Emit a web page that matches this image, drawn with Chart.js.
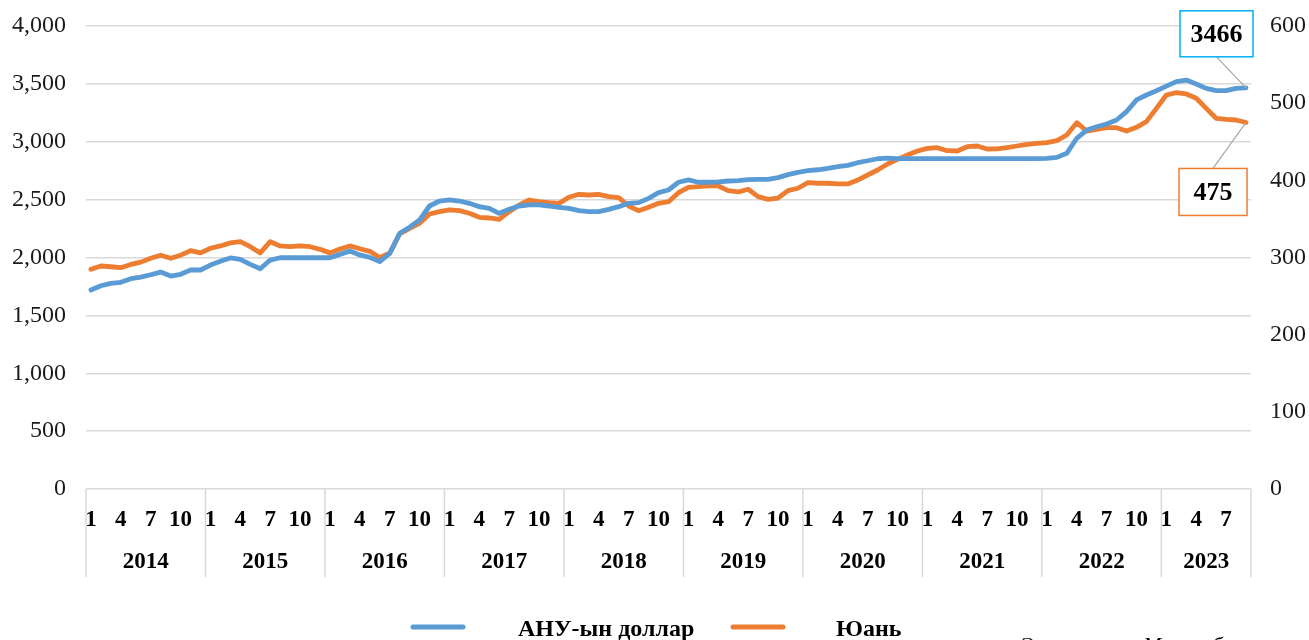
<!DOCTYPE html>
<html>
<head>
<meta charset="utf-8">
<script src="https://cdn.jsdelivr.net/npm/chart.js@4.4.0/dist/chart.umd.min.js"></script>
<style>
  body { margin: 0; background: #fff; }
  canvas { display: block; }
</style>
</head>
<body>
<canvas id="myChart" width="1309" height="640"></canvas>
<script>
  // Years on the axis and how many months each has
  const years = [2014, 2015, 2016, 2017, 2018, 2019, 2020, 2021, 2022, 2023]
  const yearMonths = [12, 12, 12, 12, 12, 12, 12, 12, 12, 9]
  const shownMonths = [1, 4, 7, 10]

  const usdLabel = 'АНУ-ын доллар'
  const cnyLabel = 'Юань'

  // MNT per USD (left axis)
  const usd = [
    1719, 1756, 1777, 1786, 1817, 1831, 1851, 1874, 1840, 1855, 1892, 1892,
    1935, 1967, 1996, 1984, 1941, 1903, 1978, 1998, 1998, 1998, 1998, 1998,
    1998, 2027, 2056, 2022, 2001, 1964, 2036, 2209, 2261, 2324, 2445, 2488,
    2497, 2488, 2468, 2439, 2425, 2382, 2416, 2445, 2454, 2454, 2445, 2434,
    2425, 2405, 2396, 2396, 2416, 2439, 2468, 2474, 2511, 2560, 2583, 2650,
    2670, 2650, 2650, 2653, 2661, 2664, 2672, 2675, 2675, 2690, 2716, 2736,
    2750, 2758, 2770, 2785, 2796, 2819, 2836, 2853, 2859, 2855, 2855, 2855,
    2855, 2855, 2855, 2855, 2855, 2855, 2855, 2855, 2855, 2855, 2855, 2855,
    2857, 2865, 2900, 3030, 3101, 3130, 3153, 3188, 3260, 3361, 3404, 3441,
    3481, 3519, 3533, 3499, 3461, 3441, 3441, 3461, 3466
  ]

  // MNT per CNY (right axis)
  const cny = [
    284.7, 289, 288, 286.8, 291, 294, 299, 303, 299, 303, 308.8, 306,
    312, 315, 319, 320.5, 314, 306, 320.5, 315, 314, 315, 314, 310.6,
    306, 311, 315, 311.4, 308, 300, 305.4, 330.5, 337.8, 344.3, 356.4, 359.4,
    361.6, 360.7, 357.3, 352.1, 351.2, 349.5, 359.4, 368, 374.5, 372.3, 371, 370.2,
    378, 381.9, 381, 381.9, 378.8, 377.5, 366.7, 360.7, 365, 370.2, 372.3, 384,
    391, 391.8, 392.7, 392.7, 386.6, 384.9, 388.4, 378.8, 375.4, 377.1, 386.6, 389.7,
    397, 396.2, 396.2, 395.3, 395.3, 400.4, 406.9, 413.4, 421.2, 427.2, 432.8, 438,
    441.5, 442.3, 438.4, 438, 443.6, 444.5, 440.6, 440.8, 442.3, 444.5, 446.7, 448,
    448.8, 451.4, 458.8, 474.7, 463.9, 466.1, 468.2, 468.2, 463.9, 468.7, 476, 493.3,
    510.6, 513.6, 511.9, 506.3, 493.3, 480.4, 479.1, 478.2, 475
  ]

  const blue = '#5b9bd5'
  const orange = '#ed7d31'
  const serif = '"Liberation Serif", "Times New Roman", serif'

  const months = []
  yearMonths.forEach(n => { for (let m = 1; m <= n; m++) months.push(m) })

  // keep the tick padding from pushing the plot area down
  const fixY = w => s => { s.width = w; s.paddingTop = 10; s.paddingBottom = 10 }

  // year groups, separators, legend, callouts
  const extras = {
    id: 'extras',
    afterDraw(chart) {
      const ctx = chart.ctx
      const x = chart.scales.x
      const area = chart.chartArea
      const half = (x.getPixelForValue(1) - x.getPixelForValue(0)) / 2
      ctx.save()

      // year separators + labels
      ctx.strokeStyle = '#d9d9d9'
      ctx.lineWidth = 1.5
      ctx.fillStyle = '#000'
      ctx.font = 'bold 23px ' + serif
      ctx.textAlign = 'center'
      ctx.textBaseline = 'middle'
      let start = 0
      let x1 = 0
      years.forEach((yr, k) => {
        const n = yearMonths[k]
        const x0 = x.getPixelForValue(start) - half
        x1 = x.getPixelForValue(start + n - 1) + half
        ctx.beginPath()
        ctx.moveTo(x0, area.bottom)
        ctx.lineTo(x0, 577)
        ctx.stroke()
        ctx.fillText(String(yr), (x0 + x1) / 2, 562)
        start += n
      })
      ctx.beginPath()
      ctx.moveTo(x1, area.bottom)
      ctx.lineTo(x1, 577)
      ctx.stroke()

      // legend
      const items = [[410, 518, 0], [730, 836, 1]]
      ctx.textAlign = 'left'
      ctx.font = 'bold 24px ' + serif
      items.forEach(([lx, tx, di]) => {
        const ds = chart.data.datasets[di]
        ctx.strokeStyle = ds.borderColor
        ctx.lineWidth = 5
        ctx.lineCap = 'round'
        ctx.beginPath()
        ctx.moveTo(lx + 3, 627)
        ctx.lineTo(lx + 53, 627)
        ctx.stroke()
        ctx.fillStyle = '#000'
        ctx.fillText(ds.label, tx, 630)
      })

      // source line, cut by the bottom edge
      ctx.font = 'italic 22px ' + serif
      ctx.textBaseline = 'top'
      ctx.fillText('Эх сурвалж: Монголбанк', 1020, 635)

      // callouts on the last points
      const callout = (di, dx, dy, w, h, color) => {
        const data = chart.data.datasets[di].data
        const pt = chart.getDatasetMeta(di).data[data.length - 1]
        const cx = pt.x + dx
        const cy = pt.y + dy
        ctx.strokeStyle = '#a6a6a6'
        ctx.lineWidth = 1.2
        ctx.lineCap = 'butt'
        ctx.beginPath()
        ctx.moveTo(cx, dy < 0 ? cy + h / 2 : cy - h / 2)
        ctx.lineTo(pt.x, pt.y)
        ctx.stroke()
        ctx.fillStyle = '#fff'
        ctx.fillRect(cx - w / 2, cy - h / 2, w, h)
        ctx.strokeStyle = color
        ctx.lineWidth = 1.5
        ctx.strokeRect(cx - w / 2, cy - h / 2, w, h)
        ctx.fillStyle = '#000'
        ctx.font = 'bold 26px ' + serif
        ctx.textAlign = 'center'
        ctx.textBaseline = 'middle'
        ctx.fillText(String(data[data.length - 1]), cx, cy + 1)
      }
      callout(0, -29.5, -54, 73, 46, '#00b0f0')
      callout(1, -33, 69.5, 68, 47, orange)

      ctx.restore()
    }
  }

  const ctx = document.getElementById('myChart')
  // eslint-disable-next-line no-unused-vars
  const myChart = new Chart(ctx, {
    type: 'line',
    data: {
      labels: months,
      datasets: [{
        label: usdLabel,
        data: usd,
        yAxisID: 'y',
        borderColor: blue,
        backgroundColor: blue,
        borderWidth: 4.8,
        pointRadius: 0,
        tension: 0,
        borderCapStyle: 'round',
        borderJoinStyle: 'round'
      }, {
        label: cnyLabel,
        data: cny,
        yAxisID: 'y1',
        borderColor: orange,
        backgroundColor: orange,
        borderWidth: 4.8,
        pointRadius: 0,
        tension: 0,
        borderCapStyle: 'round',
        borderJoinStyle: 'round'
      }]
    },
    options: {
      responsive: false,
      animation: false,
      layout: { padding: { top: 26, left: 0, right: 0, bottom: 0 } },
      plugins: {
        legend: { display: false },
        tooltip: { enabled: false }
      },
      scales: {
        x: {
          type: 'category',
          offset: true,
          grid: { display: false, drawTicks: false },
          border: { display: false },
          ticks: {
            autoSkip: false,
            maxRotation: 0,
            padding: 17,
            color: '#000',
            font: { family: serif, size: 23, weight: 'bold' },
            callback: (v, i) => shownMonths.includes(months[i]) ? months[i] : ''
          },
          afterFit: s => { s.height = 151 }
        },
        y: {
          position: 'left',
          min: 0,
          max: 4000,
          grid: { color: '#d9d9d9', lineWidth: 1.5, drawTicks: false },
          border: { display: false },
          ticks: {
            stepSize: 500,
            padding: 20,
            color: '#1a1a1a',
            font: { family: serif, size: 24 },
            callback: v => v.toLocaleString('en-US')
          },
          afterFit: fixY(86)
        },
        y1: {
          position: 'right',
          min: 0,
          max: 600,
          grid: { display: false, drawTicks: false },
          border: { display: false },
          ticks: {
            stepSize: 100,
            padding: 19,
            color: '#1a1a1a',
            font: { family: serif, size: 24 }
          },
          afterFit: fixY(58)
        }
      }
    },
    plugins: [extras]
  })
</script>
</body>
</html>
